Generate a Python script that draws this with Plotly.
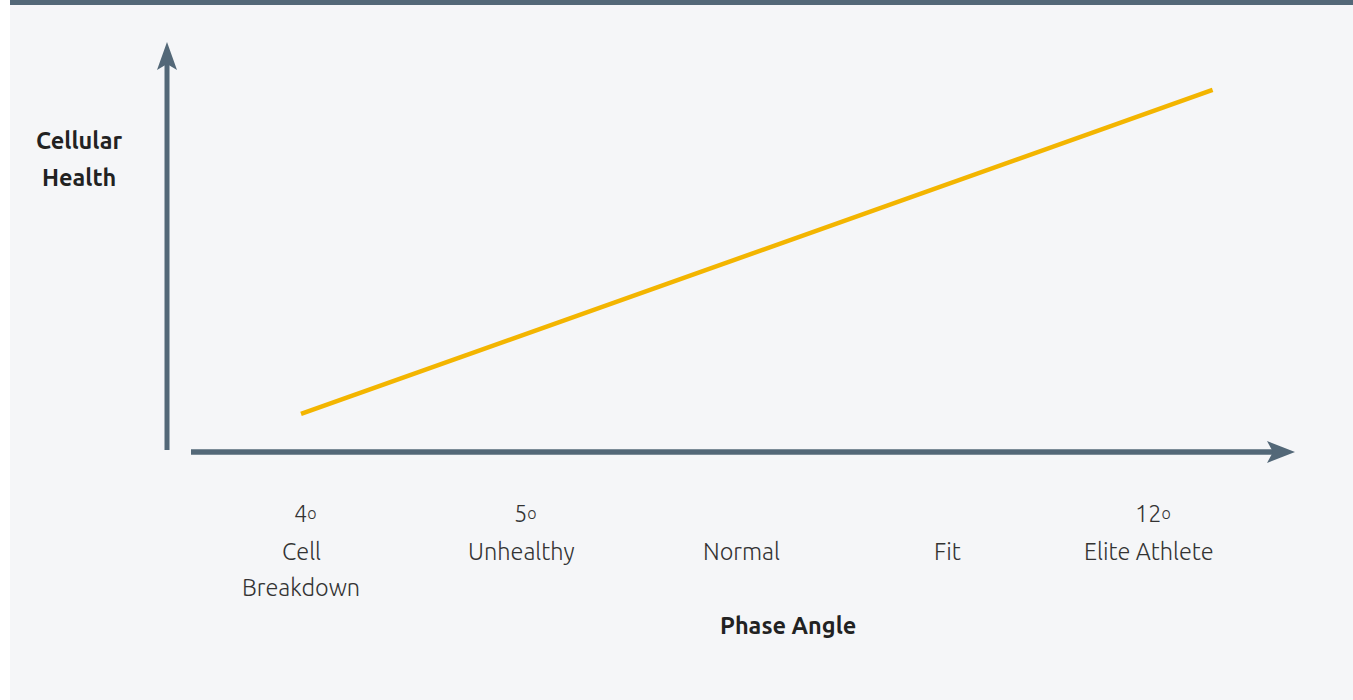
import plotly.graph_objects as go

# ---- data ----
degree_labels = ["4", "5", "", "", "12"]
name_labels = [["Cell", "Breakdown"], ["Unhealthy"], ["Normal"], ["Fit"], ["Elite Athlete"]]
label_pos = [0, 1.04, 2.08, 3.05, 4.0]          # category positions along phase-angle axis
line_x = [0.0, 4.3]                              # phase-angle scale (category index units)
line_health = [0.93, 8.83]                       # cellular health
x_title = "Phase Angle"
y_title = ["Cellular", "Health"]

W, H = 1353, 700
SLATE = "#536878"
BG = "#f5f6f8"
YELLOW = "#f3b500"

def px(x):
    return x / W

def py(y):
    return 1 - y / H

fig = go.Figure()
fig.add_trace(go.Scatter(x=line_x, y=line_health, mode="lines",
                         line=dict(color=YELLOW, width=4.5), hoverinfo="skip",
                         showlegend=False))

shapes = []
shapes.append(dict(type="rect", xref="paper", yref="paper", x0=px(10), x1=1, y0=0, y1=1,
                   fillcolor=BG, line_width=0, layer="below"))
shapes.append(dict(type="rect", xref="paper", yref="paper", x0=px(10), x1=1, y0=py(5), y1=1,
                   fillcolor=SLATE, line_width=0, layer="below"))
shapes.append(dict(type="line", xref="paper", yref="paper", x0=px(167), x1=px(167),
                   y0=py(450), y1=py(64), line=dict(color=SLATE, width=5)))
shapes.append(dict(type="path", xref="paper", yref="paper",
                   path=f"M{px(167)},{py(42)} L{px(177)},{py(70)} L{px(167)},{py(64)} L{px(157)},{py(70)} Z",
                   fillcolor=SLATE, line_width=0))
shapes.append(dict(type="line", xref="paper", yref="paper", x0=px(191), x1=px(1274),
                   y0=py(452), y1=py(452), line=dict(color=SLATE, width=5.5)))
shapes.append(dict(type="path", xref="paper", yref="paper",
                   path=f"M{px(1295)},{py(452)} L{px(1267)},{py(441)} L{px(1273)},{py(452)} L{px(1267)},{py(463)} Z",
                   fillcolor=SLATE, line_width=0))

LABEL_FONT = dict(family="Ubuntu, Lato, 'Open Sans', sans-serif", size=23.5, color="#333333", weight=300)
TITLE_FONT = dict(family="Ubuntu, 'Open Sans', Lato, sans-serif", size=23.5, color="#222222", weight=700)

annotations = []
row_y = [513, 551, 587]
for pos, deg, names in zip(label_pos, degree_labels, name_labels):
    if deg:
        annotations.append(dict(x=pos + 0.02, y=py(row_y[0]), xref="x", yref="paper",
                                text=deg + "<span style='font-size:16px;baseline-shift:3px'>o</span>",
                                showarrow=False, font=LABEL_FONT, xanchor="center", yanchor="middle"))
    for i, t in enumerate(names):
        annotations.append(dict(x=pos, y=py(row_y[1 + i]), xref="x", yref="paper", text=t,
                                showarrow=False, font=LABEL_FONT, xanchor="center", yanchor="middle"))

annotations.append(dict(x=px(788), y=py(625), xref="paper", yref="paper", text=x_title,
                        showarrow=False, font=TITLE_FONT, xanchor="center", yanchor="middle"))
for i, t in enumerate(y_title):
    annotations.append(dict(x=px(79), y=py(140 + 37 * i), xref="paper", yref="paper", text=t,
                            showarrow=False, font=TITLE_FONT, xanchor="center", yanchor="middle"))

fig.update_layout(
    width=W, height=H, margin=dict(l=0, r=0, t=0, b=0),
    paper_bgcolor="white", plot_bgcolor="rgba(0,0,0,0)",
    xaxis=dict(range=[-301 / 212, (W - 301) / 212], visible=False, fixedrange=True),
    yaxis=dict(range=[(452 - H) / 41, 452 / 41], visible=False, fixedrange=True),
    shapes=shapes, annotations=annotations, showlegend=False,
)

fig.write_html("out.html", config={"displayModeBar": False})
